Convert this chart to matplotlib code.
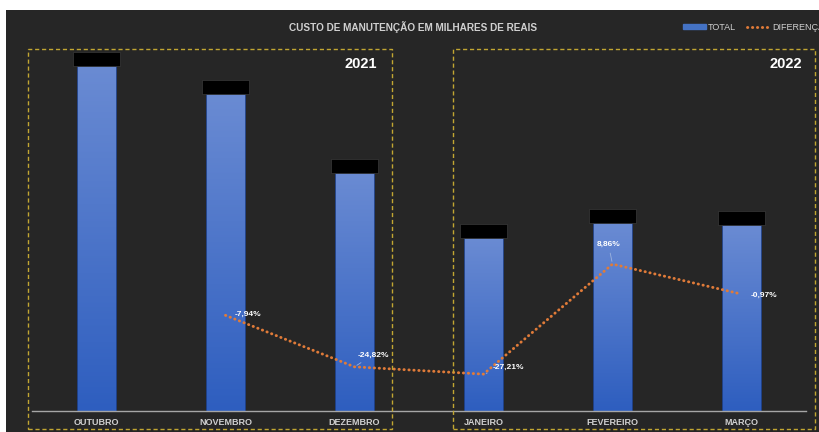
import numpy as np
import matplotlib
matplotlib.use("Agg")
import matplotlib.pyplot as plt
from matplotlib.patches import Rectangle
from matplotlib.colors import LinearSegmentedColormap

plt.rcParams['font.family'] = ['Liberation Sans', 'DejaVu Sans']

# data (heights in chart units, variation in %)
meses = ['OUTUBRO', 'NOVEMBRO', 'DEZEMBRO', 'JANEIRO', 'FEVEREIRO', 'MARÇO']
total = [345, 317, 238, 173, 188, 186]
diferenca = [-7.94, -24.82, -27.21, 8.86, -0.97]
dif_labels = ['-7,94%', '-24,82%', '-27,21%', '8,86%', '-0,97%']
anos = ['2021', '2022']

W, H = 819, 432
bg = '#262626'
gold = '#C2A632'

fig = plt.figure(figsize=(W / 100, H / 100), dpi=100, facecolor='white')
fig.patches.append(Rectangle((6 / W, 0), 1, (H - 10) / H, transform=fig.transFigure,
                             facecolor=bg, edgecolor='none', zorder=-5))

ax = fig.add_axes([32 / W, 21 / H, 774 / W, 366 / H])
ax.set_facecolor('none')
x = np.arange(len(meses))

# bars with a vertical gradient
bars = ax.bar(x, total, width=0.31, color='none', edgecolor='#1d3b7a', linewidth=0.6, zorder=2)
cmap = LinearSegmentedColormap.from_list('blu', ['#2E5EBF', '#6A8BD3'])
grad = np.linspace(0, 1, 256).reshape(-1, 1)
for b in bars:
    im = ax.imshow(grad, cmap=cmap, origin='lower', aspect='auto', zorder=1,
                   extent=[b.get_x(), b.get_x() + b.get_width(), 0, b.get_height()])
    im.set_clip_path(b)

# black label caps on top of each bar
ax.bar(x, 14, bottom=total, width=0.36, color='black', edgecolor='#3a3a3a', linewidth=0.5, zorder=3)

ax.set_xlim(-0.5, len(meses) - 0.5)
ax.set_ylim(0, 366)
ax.set_yticks([])
ax.set_xticks(x)
ax.set_xticklabels(meses, fontsize=6.5, fontweight='bold', color='#D0D0D0')
ax.tick_params(axis='x', length=0, pad=5)
for s in ['top', 'right', 'left']:
    ax.spines[s].set_visible(False)
ax.spines['bottom'].set_color('#A6A6A6')
ax.spines['bottom'].set_linewidth(1)

# variation line on secondary axis
ax2 = ax.twinx()
ax2.set_ylim(-39.3, 80.7)
ax2.axis('off')
xd = x[1:]
line, = ax2.plot(xd, diferenca, color='#E07B39', lw=2.1, linestyle=(0, (0.1, 1.6)),
                 dash_capstyle='round', zorder=4)

offsets = [(6.5, 0.7, 'left'), (2, 8.6, 'left'), (6.5, 5, 'left'), (-3, 14.4, 'center'), (6.5, -0.7, 'left')]
leaders = [False, True, True, True, False]
for xi, yi, lab, (dx, dy, ha), ld in zip(xd, diferenca, dif_labels, offsets, leaders):
    arrow = dict(arrowstyle='-', color='#9DB3DD', lw=0.6, shrinkA=2, shrinkB=2) if ld else None
    ax2.annotate(lab, (xi, yi), xytext=(dx, dy), textcoords='offset points', ha=ha, va='center',
                 fontsize=6, fontweight='bold', color='white', arrowprops=arrow, zorder=5)

# year boxes
def px_rect(x0, y0, x1, y1):
    r = Rectangle((x0 / W, 1 - y1 / H), (x1 - x0) / W, (y1 - y0) / H, transform=fig.transFigure,
                  fill=False, edgecolor=gold, lw=1, linestyle=(0, (3, 2)), zorder=6)
    fig.patches.append(r)

px_rect(28, 49, 392, 429)
px_rect(453, 49, 815, 429)
fig.text(377 / W, 1 - 64 / H, anos[0], ha='right', va='center', fontsize=10.5,
         fontweight='bold', color='white')
fig.text(802 / W, 1 - 64 / H, anos[1], ha='right', va='center', fontsize=10.5,
         fontweight='bold', color='white')

fig.text(413 / W, 1 - 27 / H, 'CUSTO DE MANUTENÇÃO EM MILHARES DE REAIS', ha='center', va='center',
         fontsize=7.2, fontweight='bold', color='#D0D0D0')

leg = fig.legend([Rectangle((0, 0), 1, 1, color='#4472C4'), line], ['TOTAL', 'DIFERENÇA'],
                 loc='center left', bbox_to_anchor=(678 / W, 1 - 27 / H), ncol=2, frameon=False,
                 fontsize=6.5, handlelength=2.6, handleheight=0.45, handletextpad=0.2,
                 columnspacing=1.2, borderpad=0, labelcolor='#D0D0D0')

fig.savefig('out.png', dpi=100, facecolor=fig.get_facecolor())
